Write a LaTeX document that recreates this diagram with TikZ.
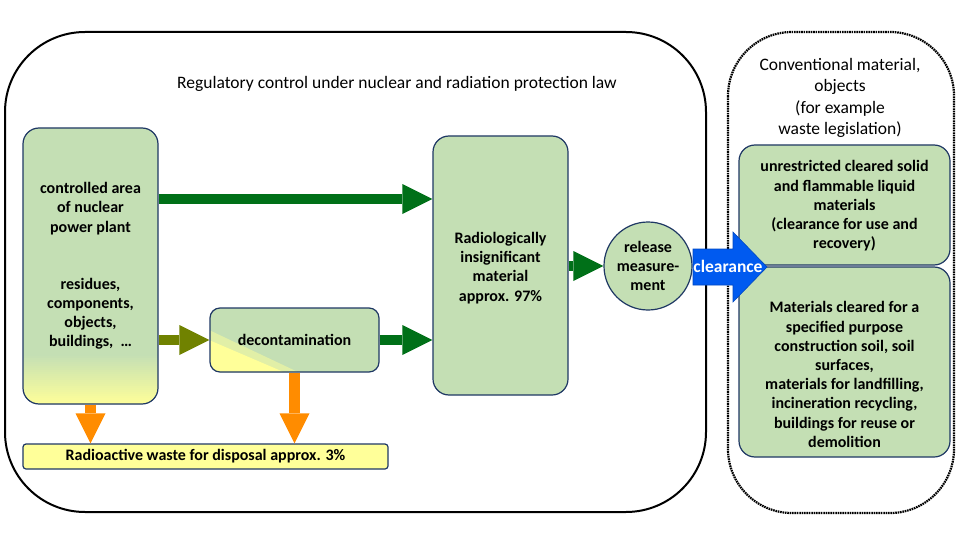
\documentclass[tikz,border=0pt]{standalone}
\usepackage{fontspec}
\setmainfont{Carlito}
\usetikzlibrary{arrows.meta}
\definecolor{boxg}{RGB}{196,223,180}
\definecolor{boxb}{RGB}{31,56,100}
\definecolor{arrg}{RGB}{0,112,24}
\definecolor{arro}{RGB}{112,130,0}
\definecolor{orng}{RGB}{255,140,0}
\definecolor{yel}{RGB}{255,255,153}
\definecolor{clrb}{RGB}{0,90,240}
\tikzset{
  gbox/.style={draw=boxb, line width=1.2pt, fill=boxg, inner sep=0pt},
  btext/.style={align=center, inner sep=0pt, font=\fontsize{16}{19.2}\selectfont\bfseries},
  rtext/.style={align=center, inner sep=0pt, font=\fontsize{17.5}{21.5}\selectfont},
  blockarr/.style={line width=#1, -{Triangle[length=30pt,width=30pt,line width=0pt]}},
  garrow/.style={draw=arrg, fill=arrg, blockarr=10pt},
  oarrow/.style={draw=arro, fill=arro, blockarr=10pt},
  orarrow/.style={draw=orng, fill=orng, blockarr=11pt},
}
\begin{document}
\begin{tikzpicture}[x=1pt,y=-1pt]
\useasboundingbox[fill=white] (0,0) rectangle (960,540);

% outer frames
\draw[line width=2pt, rounded corners=80pt] (5,32) rectangle (706,512);
\draw[line width=2.2pt, dash pattern=on 1.6pt off 0.8pt, rounded corners=64pt] (728,32) rectangle (954,513);

\node[rtext] (title) at (397,84) {Regulatory control under nuclear and radiation protection law};
\node[rtext] (conv) at (840,98) {Conventional material,\\objects\\(for example\\waste legislation)};

% controlled area box
\node[gbox, rounded corners=16pt, minimum width=135pt, minimum height=276pt,
  path picture={
    \foreach \i in {0,...,25} {
      \pgfmathsetmacro\pc{\i*4}
      \fill[sharp corners, yel!\pc!boxg]
        ([yshift={50pt-\i*2pt}]path picture bounding box.south west) rectangle
        ([yshift={47.6pt-\i*2pt}]path picture bounding box.south east);
    }}] (ctrl) at (90.5,266) {};
\node[btext] (ctrlt) at (ctrl.center) {controlled area\\of nuclear\\power plant\\[38pt]residues,\\components,\\objects,\\buildings,\ \ \dots};

% decontamination
\node[gbox, rounded corners=10pt, minimum width=169pt, minimum height=64pt,
  path picture={
    \fill[sharp corners, yel!50!boxg] ([shift={(-1pt,42pt)}]path picture bounding box.south west) --
      ([shift={(-1pt,-1pt)}]path picture bounding box.south west) --
      ([shift={(90pt,-1pt)}]path picture bounding box.south west) -- cycle;
    \fill[sharp corners, yel] ([shift={(-1pt,32pt)}]path picture bounding box.south west) --
      ([shift={(-1pt,-1pt)}]path picture bounding box.south west) --
      ([shift={(76pt,-1pt)}]path picture bounding box.south west) -- cycle;}] (decon) at (294.5,340) {};
\node[btext] (decont) at (decon.center) {decontamination};

% radioactive waste
\node[draw=boxb, line width=1.2pt, fill=yel, rounded corners=3pt, minimum width=365pt, minimum height=25pt, inner sep=0pt] (waste) at (205.5,456.5) {};
\node[btext] (wastet) at (waste.center) {Radioactive waste for disposal approx. 3\%};

% radiologically insignificant
\node[gbox, rounded corners=16pt, minimum width=135pt, minimum height=259pt] (radio) at (500.5,265.5) {};
\node[btext] (radiot) at (500.5,268) {Radiologically\\insignificant\\material\\approx. 97\%};

% release measurement
\node[gbox, circle, minimum size=88pt] (rel) at (648,266) {};
\node[btext] (relt) at (rel.center) {release\\measure-\\ment};

% right boxes
\node[gbox, rounded corners=16pt, minimum width=211pt, minimum height=120pt] (unres) at (844.5,205) {};
\node[btext] (unrest) at (844.5,206) {unrestricted cleared solid\\and flammable liquid\\materials\\(clearance for use and\\recovery)};
\node[gbox, rounded corners=16pt, minimum width=211pt, minimum height=190pt] (mat) at (844.5,362) {};
\node[btext] (matt) at (844.5,374.5) {Materials cleared for a\\specified purpose\\construction soil, soil\\surfaces,\\materials for landfilling,\\incineration recycling,\\buildings for reuse or\\demolition};

% arrows
\coordinate (a1) at ([yshift=67pt]ctrl.east);
\draw[garrow] (a1) -- (a1 -| radio.west);
\draw[oarrow] (decon.west -| ctrl.east) -- (decon.west);
\draw[garrow] (decon.east) -- (decon.east -| radio.west);
\draw[garrow] (radio.east |- rel.west) -- (rel.west);
\draw[orarrow] (ctrl.south) -- (ctrl.south |- waste.north);
\draw[orarrow] (decon.south) -- (decon.south |- waste.north);

% clearance arrow
\fill[clrb, draw=clrb!80!black, line width=0.6pt] (693,249) -- (733,249) -- (733,232) -- (767,267) -- (733,302) -- (733,285) -- (693,285) -- cycle;
\node[inner sep=0pt, text=white, font=\fontsize{17.5}{20}\selectfont\bfseries] (clr) at (728,266) {clearance};
\end{tikzpicture}
\end{document}
